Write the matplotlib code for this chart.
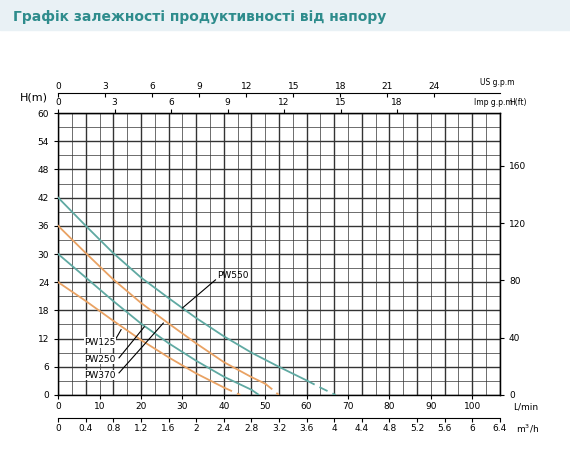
import matplotlib
matplotlib.use("Agg")
import matplotlib.pyplot as plt
import numpy as np
from matplotlib.patches import Rectangle

# data (L/min, m)
pw125_q = [0, 6.67, 13.3, 20, 26.7, 33.3, 40]
pw125_h = [24, 20, 15.8, 11.7, 8.0, 4.6, 1.6]
pw125_dq = [40, 42, 44]
pw125_dh = [1.6, 0.8, 0]

pw250_q = [0, 6.67, 13.3, 20, 26.7, 33.3, 40, 46.7]
pw250_h = [30, 25, 20, 15.2, 11.0, 7.3, 3.9, 1.1]
pw250_dq = [46.7, 48.5]
pw250_dh = [1.1, 0]

pw370_q = [0, 6.67, 13.3, 20, 26.7, 33.3, 40, 46.7, 50]
pw370_h = [36, 30.2, 24.6, 19.6, 15.2, 11.0, 7.0, 3.8, 2.4]
pw370_dq = [50, 51.7, 53.3]
pw370_dh = [2.4, 1.2, 0]

pw550_q = [0, 6.67, 13.3, 20, 26.7, 33.3, 40, 46.7, 53.3, 60]
pw550_h = [42, 36, 30.2, 25, 20.6, 16.4, 12.5, 9.0, 6.0, 3.1]
pw550_dq = [60, 63.5, 67]
pw550_dh = [3.1, 1.5, 0]

us_ticks = [0, 3, 6, 9, 12, 15, 18, 21, 24]
imp_ticks = [0, 3, 6, 9, 12, 15, 18]
lmin_ticks = [0, 10, 20, 30, 40, 50, 60, 70, 80, 90, 100]
m3h_ticks = [0, 0.4, 0.8, 1.2, 1.6, 2, 2.4, 2.8, 3.2, 3.6, 4, 4.4, 4.8, 5.2, 5.6, 6, 6.4]
m3h_labels = ["0", "0.4", "0.8", "1.2", "1.6", "2", "2.4", "2.8", "3.2", "3.6", "4", "4.4", "4.8", "5.2", "5.6", "6", "6.4"]
h_ticks = [0, 6, 12, 18, 24, 30, 36, 42, 48, 54, 60]
ft_ticks = [0, 40, 80, 120, 160]

teal = "#5fa9a2"
orange = "#e9a263"
fs = 6.5
plt.rcParams['font.family'] = ['DejaVu Sans']

fig = plt.figure(figsize=(5.7, 4.54), dpi=100)
fig.patches.append(Rectangle((0, 0.935), 1, 0.065, transform=fig.transFigure, color="#e9f1f5", zorder=0))
fig.text(0.022, 0.962, "Графік залежності продуктивності від напору", color="#2e8c8c",
         fontsize=10, fontweight="bold", va="center")

ax = fig.add_axes([0.102, 0.130, 0.775, 0.621])
XMAX = 106.67
ax.set_xlim(0, XMAX)
ax.set_ylim(0, 60)

for v in np.arange(0, XMAX + 0.01, XMAX / 32):
    i = int(round(v / (XMAX / 32)))
    ax.axvline(v, color="#333", lw=1.0 if i % 2 == 0 else 0.5, zorder=1)
for v in np.arange(0, 60.1, 3):
    ax.axhline(v, color="#333", lw=1.0 if v % 6 == 0 else 0.5, zorder=1)

for q, h, dq, dh, c in [(pw125_q, pw125_h, pw125_dq, pw125_dh, orange),
                        (pw250_q, pw250_h, pw250_dq, pw250_dh, teal),
                        (pw370_q, pw370_h, pw370_dq, pw370_dh, orange),
                        (pw550_q, pw550_h, pw550_dq, pw550_dh, teal)]:
    ax.plot(q, h, color=c, lw=1.3, zorder=3)
    ax.plot(dq, dh, color=c, lw=1.3, ls=(0, (5, 3)), zorder=3)

# labels with leaders
ax.plot([30, 38], [18.5, 24.5], color="k", lw=0.8, zorder=4)
ax.text(38.5, 24.5, "PW550", fontsize=fs, va="bottom", zorder=5)
ax.plot([13.3, 15.2], [11, 13.9], color="k", lw=0.8, zorder=4)
ax.plot([14.7, 20.8], [7.9, 14.5], color="k", lw=0.8, zorder=4)
ax.plot([14.7, 25.4], [4.7, 15.3], color="k", lw=0.8, zorder=4)
for y, t in [(11.2, "PW125"), (7.6, "PW250"), (4.2, "PW370")]:
    ax.text(6.3, y, t, fontsize=fs, va="center", zorder=5,
            bbox=dict(facecolor="white", edgecolor="none", pad=0.5))

for s in ax.spines.values():
    s.set_linewidth(1.0)
ax.set_yticks(h_ticks)
ax.tick_params(axis="y", labelsize=fs, length=3)
ax.set_xticks(lmin_ticks)
ax.tick_params(axis="x", labelsize=fs, length=3, pad=2)

# m3/h axis below
ax2 = ax.secondary_xaxis(-0.08, functions=(lambda x: x * 0.06, lambda x: x / 0.06))
ax2.set_xticks(m3h_ticks)
ax2.set_xticklabels(m3h_labels)
ax2.tick_params(labelsize=fs, length=3, pad=2)

# imp gpm on top
ax3 = ax.secondary_xaxis("top", functions=(lambda x: x / 4.546, lambda x: x * 4.546))
ax3.set_xticks(imp_ticks)
ax3.tick_params(labelsize=fs, length=3, pad=1)
# US gpm above
ax4 = ax.secondary_xaxis(1.072, functions=(lambda x: x / 3.785, lambda x: x * 3.785))
ax4.set_xticks(us_ticks)
ax4.tick_params(labelsize=fs, length=3, pad=1, direction="in")

# H(ft) right
ax5 = ax.secondary_yaxis("right", functions=(lambda x: x * 3.281, lambda x: x / 3.281))
ax5.set_yticks(ft_ticks)
ax5.tick_params(labelsize=fs, length=3)

fig.text(0.035, 0.778, "H(m)", fontsize=8)
fig.text(0.842, 0.812, "US g.p.m", fontsize=5.5)
fig.text(0.832, 0.768, "Imp g.p.m", fontsize=5.5)
fig.text(0.893, 0.768, "H(ft)", fontsize=5.5)
fig.text(0.900, 0.098, "L/min", fontsize=fs)
fig.text(0.905, 0.048, "m$^3$/h", fontsize=fs)

fig.savefig("out.png", dpi=100)
